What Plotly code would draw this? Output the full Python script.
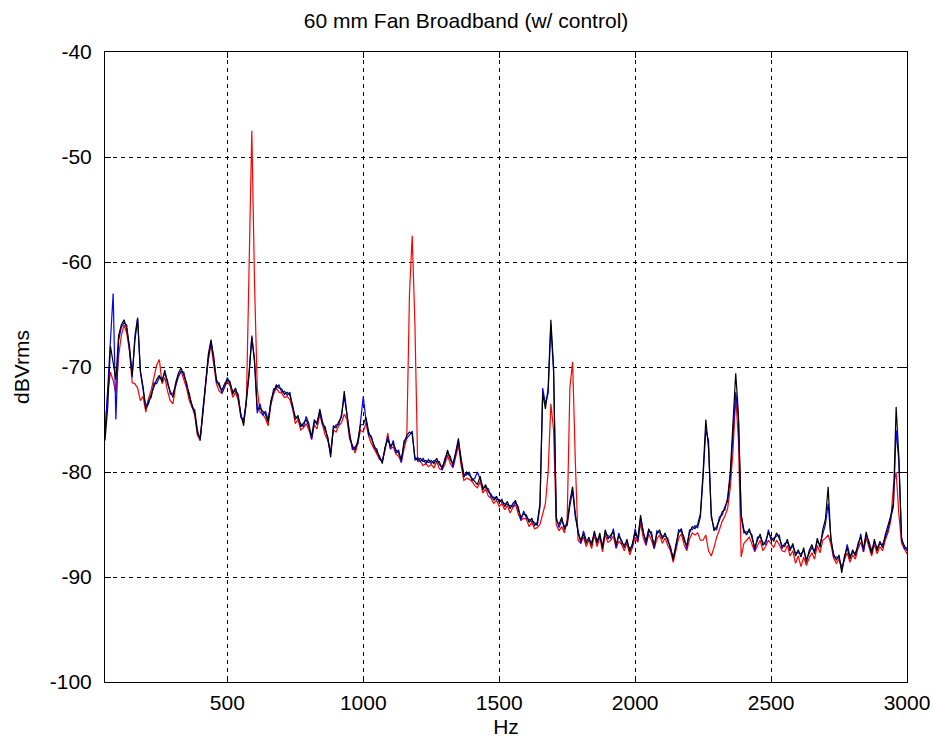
import plotly.graph_objects as go

freq_hz = list(range(50, 3001, 10))

black_dbv = [
    -77.0, -73.8, -68.0, -69.5, -71.2, -67.0, -66.0, -65.5, -66.4, -68.0,
    -70.8, -67.5, -65.4, -70.3, -71.9, -74.0, -73.5, -72.6, -71.8, -71.2,
    -70.8, -71.4, -70.3, -71.6, -72.3, -72.9, -71.5, -70.6, -70.1, -70.8,
    -71.5, -72.8, -73.5, -74.4, -76.3, -76.8, -74.4, -71.2, -68.8, -67.4,
    -69.3, -71.2, -71.8, -72.2, -71.6, -71.2, -71.4, -72.6, -72.0, -72.9,
    -74.5, -75.6, -73.0, -70.5, -67.2, -69.3, -74.0, -73.9, -74.2, -74.5,
    -75.3, -73.2, -72.4, -71.7, -72.0, -72.1, -72.6, -72.4, -72.7, -73.6,
    -75.0, -74.6, -75.7, -75.4, -75.0, -75.7, -76.6, -75.0, -75.5, -74.0,
    -75.2, -76.0, -76.7, -78.6, -75.6, -75.8, -75.2, -74.8, -72.3, -74.5,
    -76.6, -77.6, -77.9, -77.0, -75.5, -75.5, -74.8, -76.2, -76.9, -77.4,
    -78.1, -78.5, -79.2, -77.6, -76.9, -77.5, -77.3, -77.9, -78.2, -78.8,
    -77.3, -76.5, -76.2, -76.4, -78.6, -78.9, -78.7, -79.0, -78.9, -79.1,
    -78.9, -79.2, -78.7, -79.3, -79.5, -79.0, -77.9, -78.8, -79.2, -78.1,
    -76.8, -79.0, -80.5, -80.0, -80.3, -80.5, -80.9, -81.2, -80.4, -81.7,
    -81.2, -81.9, -82.1, -82.7, -82.3, -82.9, -82.6, -83.3, -82.8, -83.5,
    -83.0, -82.7, -83.6, -84.3, -84.0, -84.1, -84.8, -84.4, -85.1, -84.8,
    -83.0, -72.5, -74.0, -72.0, -65.5, -70.0, -84.6, -85.0, -84.3, -85.5,
    -84.8, -82.8, -81.4, -84.0, -85.8, -86.5, -85.9, -86.8, -86.2, -87.0,
    -85.6, -86.8, -85.8, -87.3, -85.5, -86.4, -86.0, -85.7, -86.9, -86.1,
    -86.5, -87.2, -86.4, -87.6, -86.8, -85.7, -86.3, -84.1, -85.8, -86.6,
    -85.4, -86.0, -87.0, -85.9, -85.5, -86.4, -85.8, -86.6, -87.1, -88.4,
    -86.9, -85.8, -85.4, -86.5, -87.0, -85.8, -85.2, -85.4, -85.0, -84.0,
    -80.0, -75.0, -77.8, -84.0, -85.6, -85.2, -84.6, -83.8, -83.6, -82.5,
    -80.0, -75.8, -70.6, -74.5, -84.0, -85.5, -86.0, -85.4, -86.3, -87.2,
    -86.5, -85.9, -87.0, -86.6, -85.8, -86.2, -86.6, -85.8, -86.3, -87.0,
    -87.1, -86.4, -87.5, -86.8, -88.0, -87.4, -88.1, -87.2, -88.6, -87.5,
    -86.9, -87.8, -86.3, -87.2, -85.5, -84.5, -81.4, -86.5, -87.8, -88.4,
    -87.9, -89.6, -88.0, -87.2, -88.3, -87.4, -88.0, -86.8, -86.2, -87.3,
    -85.7, -86.9, -87.8, -86.4, -87.5, -86.6, -87.2, -86.0, -85.2, -84.2,
    -83.0, -73.8, -78.5, -86.5, -87.0, -87.5,
]

blue_dbv = [
    -76.5, -72.5, -67.5, -63.0, -75.0, -67.5, -66.2, -65.8, -66.0, -68.4,
    -71.0, -67.0, -65.3, -70.5, -72.2, -73.8, -73.2, -72.9, -71.5, -71.6,
    -71.0, -71.2, -70.6, -71.3, -72.6, -72.5, -71.8, -70.9, -70.4, -70.5,
    -71.8, -72.5, -73.8, -74.1, -76.0, -77.0, -74.0, -71.5, -69.2, -67.6,
    -69.0, -71.5, -71.5, -72.5, -71.9, -71.0, -71.7, -72.3, -72.3, -72.6,
    -74.8, -75.0, -73.3, -70.8, -67.0, -69.6, -74.4, -73.5, -74.6, -74.2,
    -75.0, -73.5, -72.1, -72.0, -71.7, -72.4, -72.3, -72.7, -72.4, -73.9,
    -74.7, -74.9, -75.4, -75.7, -74.7, -75.4, -76.9, -75.3, -75.2, -74.3,
    -75.5, -75.7, -77.0, -78.3, -75.9, -75.5, -75.5, -74.5, -72.8, -74.8,
    -76.3, -77.9, -77.6, -77.3, -75.2, -72.8, -75.1, -76.5, -76.6, -77.7,
    -77.8, -78.8, -78.9, -77.9, -76.6, -77.8, -77.0, -78.2, -77.9, -79.1,
    -77.0, -76.8, -76.5, -76.1, -78.9, -78.6, -79.0, -78.7, -79.2, -78.8,
    -79.2, -78.9, -79.0, -79.0, -79.8, -78.7, -78.2, -78.5, -79.5, -78.4,
    -77.1, -78.7, -80.2, -80.3, -80.0, -80.8, -80.6, -80.0, -80.7, -81.4,
    -81.5, -81.6, -82.4, -82.4, -82.6, -82.6, -82.9, -83.0, -83.1, -83.2,
    -83.3, -82.9, -83.3, -84.6, -83.7, -84.4, -84.5, -84.7, -84.8, -85.1,
    -83.3, -72.0, -73.5, -72.5, -66.0, -70.5, -84.3, -85.3, -84.6, -85.2,
    -85.1, -83.2, -81.8, -84.3, -85.5, -86.8, -85.6, -86.5, -86.5, -86.7,
    -85.9, -86.5, -86.1, -87.0, -85.8, -86.1, -86.3, -85.4, -87.2, -85.8,
    -86.8, -86.9, -86.7, -87.3, -87.1, -85.4, -86.6, -84.4, -85.5, -86.9,
    -85.7, -85.7, -87.3, -85.6, -85.8, -86.1, -86.1, -86.3, -87.4, -88.1,
    -87.2, -85.5, -85.7, -86.2, -87.3, -85.5, -85.5, -85.1, -85.3, -84.3,
    -80.5, -76.0, -77.0, -84.3, -85.3, -85.5, -84.3, -84.1, -83.3, -82.8,
    -80.5, -76.5, -72.4, -75.0, -84.3, -85.8, -85.7, -85.7, -86.0, -87.5,
    -86.2, -86.2, -86.7, -86.9, -85.5, -86.5, -86.3, -86.1, -86.0, -87.3,
    -86.8, -86.7, -87.2, -87.1, -87.7, -87.7, -87.8, -87.5, -88.3, -87.8,
    -87.2, -87.5, -86.6, -86.9, -85.8, -85.0, -83.0, -86.2, -88.1, -88.1,
    -88.2, -89.3, -88.3, -86.9, -88.0, -87.7, -87.7, -87.1, -85.9, -87.6,
    -86.0, -86.6, -87.5, -86.7, -87.2, -86.9, -86.9, -86.3, -85.5, -84.5,
    -83.3, -76.0, -79.0, -86.2, -87.3, -87.2,
]

red_dbv = [
    -76.0, -72.5, -70.5, -71.3, -72.5, -69.0, -67.0, -66.0, -66.8, -68.5,
    -71.5, -71.6, -72.0, -73.2, -72.8, -74.3, -73.0, -72.2, -71.0, -69.8,
    -69.3, -71.6, -71.0, -72.3, -73.2, -73.5, -71.8, -70.9, -70.4, -71.3,
    -72.0, -73.2, -73.8, -74.6, -76.5, -77.0, -74.7, -71.8, -69.3, -67.9,
    -69.8, -71.6, -72.3, -72.5, -71.9, -71.4, -71.8, -72.9, -72.4, -73.2,
    -74.8, -75.3, -73.5, -60.0, -47.5, -62.0, -72.0, -74.3, -74.5, -74.9,
    -75.6, -73.6, -72.6, -72.0, -72.4, -72.5, -72.9, -72.8, -73.1, -74.0,
    -75.4, -75.0, -76.0, -75.8, -75.4, -76.0, -76.9, -75.5, -75.9, -74.5,
    -75.6, -76.5, -77.0, -78.0, -76.0, -76.2, -75.6, -75.3, -74.5, -75.0,
    -76.9, -77.4, -78.2, -77.3, -76.0, -76.2, -75.3, -76.6, -77.3, -77.8,
    -78.4, -78.8, -79.0, -77.9, -76.3, -77.8, -77.6, -78.3, -78.5, -79.1,
    -77.8, -76.8, -63.0, -57.5, -66.0, -79.0, -79.0, -79.4, -79.2, -79.5,
    -79.3, -79.6, -79.0, -79.7, -79.8, -79.3, -78.4, -79.2, -79.6, -78.6,
    -77.5, -79.4, -80.8, -80.6, -80.7, -80.9, -81.3, -81.5, -80.9, -82.0,
    -81.6, -82.3, -82.5, -83.0, -82.7, -83.3, -83.0, -83.6, -83.2, -83.9,
    -83.4, -83.1, -84.0, -84.6, -84.4, -84.5, -85.2, -84.8, -85.4, -85.3,
    -85.0, -84.0, -83.0, -80.0, -73.5, -76.0, -85.0, -85.6, -85.2, -85.8,
    -84.5, -72.0, -69.5, -79.0, -86.5, -86.8, -86.2, -87.1, -86.5, -87.3,
    -86.0, -87.1, -86.2, -87.6, -86.0, -86.7, -86.5, -86.1, -87.3, -86.6,
    -86.9, -87.5, -86.8, -87.9, -87.2, -86.2, -86.7, -84.9, -86.3, -87.0,
    -85.9, -86.5, -87.3, -86.4, -86.0, -86.8, -86.3, -87.0, -87.5, -88.6,
    -87.3, -86.3, -85.9, -86.9, -87.5, -86.4, -85.8, -86.0, -85.8, -86.5,
    -86.5, -86.0, -87.5, -88.0, -87.2, -86.2, -85.5, -84.7, -84.2, -83.5,
    -81.5, -78.0, -72.8, -77.0, -88.1, -86.8, -86.5, -86.2, -86.9, -87.6,
    -87.0, -86.5, -87.5, -87.1, -86.5, -86.8, -87.2, -86.5, -86.9, -87.5,
    -87.6, -87.0, -88.0, -87.5, -88.7, -88.0, -89.0, -88.1, -88.9, -88.2,
    -87.7, -88.3, -87.0, -87.7, -86.5, -86.3, -86.0, -86.9, -88.2, -88.7,
    -88.3, -89.0, -88.3, -87.7, -88.6, -87.9, -88.3, -87.3, -86.7, -87.6,
    -86.3, -87.2, -88.0, -86.9, -87.8, -87.1, -87.5, -86.5, -85.8, -84.7,
    -81.4, -80.0, -84.0, -86.8, -87.3, -87.8,
]

x_ticks = [500, 1000, 1500, 2000, 2500, 3000]
x_tick_labels = ["500", "1000", "1500", "2000", "2500", "3000"]
y_ticks = [-100, -90, -80, -70, -60, -50, -40]
y_tick_labels = ["-100", "-90", "-80", "-70", "-60", "-50", "-40"]

FONT = "Liberation Sans, Arial, sans-serif"
FS = 21

fig = go.Figure()
for name, vals, col in [("red", red_dbv, "#ff0000"),
                        ("blue", blue_dbv, "#0000ff"),
                        ("black", black_dbv, "#000000")]:
    fig.add_trace(go.Scatter(x=freq_hz, y=vals, mode="lines", name=name,
                             line=dict(color=col, width=1.2), showlegend=False))

axis_common = dict(
    showline=True, linecolor="black", linewidth=1, mirror="ticks",
    ticks="inside", ticklen=6, tickcolor="black",
    showgrid=True, gridcolor="black", gridwidth=1, griddash="4px,4px",
    zeroline=False, automargin=False,
    tickfont=dict(family=FONT, size=FS, color="black"),
)

fig.update_layout(
    width=934, height=744,
    margin=dict(l=105, r=27, t=52, b=62),
    paper_bgcolor="white", plot_bgcolor="white",
    title=dict(text="60 mm Fan Broadband (w/ control)", x=0.499, xanchor="center",
               y=0.972, yanchor="middle",
               font=dict(family=FONT, size=FS, color="black")),
    xaxis=dict(range=[50, 3000], tickvals=x_ticks, ticktext=x_tick_labels,
               ticklabelstandoff=2,
               title=dict(text="Hz", font=dict(family=FONT, size=FS, color="black"), standoff=6),
               **axis_common),
    yaxis=dict(range=[-100, -40], tickvals=y_ticks, ticktext=y_tick_labels,
               ticklabelstandoff=8,
               title=dict(text="dBVrms", font=dict(family=FONT, size=FS, color="black"), standoff=14),
               **axis_common),
)

fig.write_html("out.html")
